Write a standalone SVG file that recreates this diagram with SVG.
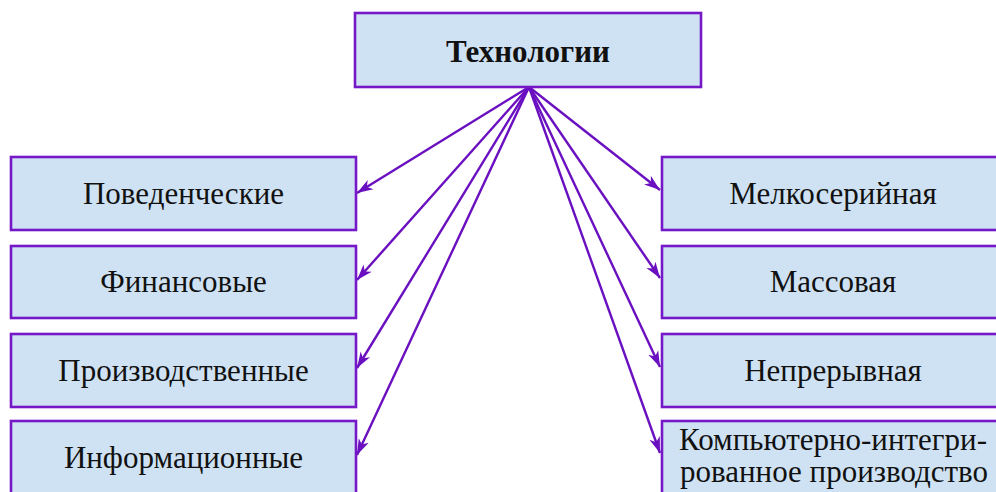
<svg xmlns="http://www.w3.org/2000/svg" width="996" height="492" viewBox="0 0 996 492">
<defs>
<style>
.box{fill:#cfe2f3;stroke:#7418c8;stroke-width:2.6}
.t{font-family:"Liberation Serif","Times New Roman",serif;font-size:31px;fill:#111;text-anchor:middle}
.tb{font-weight:bold}
.c{stroke:#6a10c0;stroke-width:2.4;fill:none}
</style>
<marker id="ah" markerUnits="userSpaceOnUse" markerWidth="17" markerHeight="13" refX="16" refY="5.5" orient="auto" viewBox="0 0 17 11">
<path d="M0,0 L16,5.5 L0,11 L4.5,5.5 Z" fill="#6a10c0"/>
</marker>
</defs>
<rect width="996" height="492" fill="#fff"/>
<g id="connectors">
<line class="c" x1="529" y1="87" x2="357" y2="193" marker-end="url(#ah)"/>
<line class="c" x1="529" y1="87" x2="357" y2="280" marker-end="url(#ah)"/>
<line class="c" x1="529" y1="87" x2="357" y2="368" marker-end="url(#ah)"/>
<line class="c" x1="529" y1="87" x2="357" y2="455" marker-end="url(#ah)"/>
<line class="c" x1="529" y1="87" x2="660" y2="190" marker-end="url(#ah)"/>
<line class="c" x1="529" y1="87" x2="660" y2="278" marker-end="url(#ah)"/>
<line class="c" x1="529" y1="87" x2="660" y2="367" marker-end="url(#ah)"/>
<line class="c" x1="529" y1="87" x2="660" y2="453" marker-end="url(#ah)"/>
</g>
<g id="n-tech">
<rect class="box" x="355" y="13" width="346" height="74"/>
<text class="t tb" x="528" y="62">Технологии</text>
</g>
<g id="n-behav">
<rect class="box" x="11" y="157" width="345" height="73"/>
<text class="t" x="183.5" y="204">Поведенческие</text>
</g>
<g id="n-fin">
<rect class="box" x="11" y="246" width="345" height="72"/>
<text class="t" x="183.5" y="292">Финансовые</text>
</g>
<g id="n-prod">
<rect class="box" x="11" y="334" width="345" height="73"/>
<text class="t" x="183.5" y="381">Производственные</text>
</g>
<g id="n-info">
<rect class="box" x="11" y="421" width="345" height="73"/>
<text class="t" x="183.5" y="468">Информационные</text>
</g>
<g id="n-small">
<rect class="box" x="662" y="157" width="345" height="73"/>
<text class="t" x="833" y="204">Мелкосерийная</text>
</g>
<g id="n-mass">
<rect class="box" x="662" y="246" width="345" height="72"/>
<text class="t" x="833" y="292">Массовая</text>
</g>
<g id="n-cont">
<rect class="box" x="662" y="334" width="345" height="73"/>
<text class="t" x="833" y="381">Непрерывная</text>
</g>
<g id="n-cim">
<rect class="box" x="662" y="421" width="345" height="73"/>
<text class="t" x="833" y="450">Компьютерно-интегри-</text>
<text class="t" x="834" y="482">рованное производство</text>
</g>
</svg>
